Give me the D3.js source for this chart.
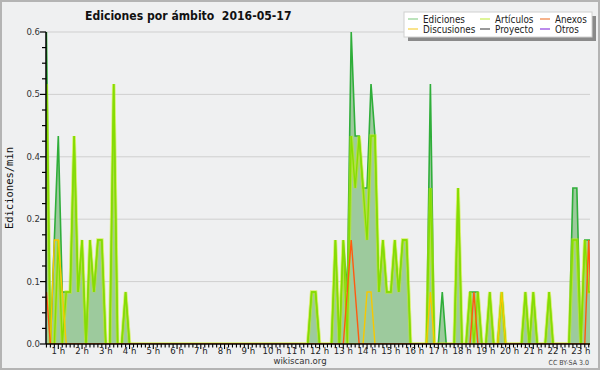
<!DOCTYPE html>
<html>
<head>
<meta charset="utf-8">
<script src="https://cdn.jsdelivr.net/npm/d3@7"></script>
<style>
  body { margin: 0; background: #fff; }
  svg { display: block; font-family: "DejaVu Sans Condensed", "DejaVu Sans", sans-serif; }
</style>
</head>
<body>
<div id="chart"></div>
<script>
// values are edits per minute in 10 minute bins, 00:00 .. 23:50 (144 bins)
const ediciones = [
  0, 0, 0, 0.6, 0, 0.2, 0.4, 0.1, 0.1, 0.1, 0.4, 0.1,
  0.2, 0, 0.2, 0.1, 0.2, 0.2, 0, 0, 0.5, 0, 0, 0.1,
  0, 0, 0, 0, 0, 0, 0, 0, 0, 0, 0, 0,
  0, 0, 0, 0, 0, 0, 0, 0, 0, 0, 0, 0,
  0, 0, 0, 0, 0, 0, 0, 0, 0, 0, 0, 0,
  0, 0, 0, 0, 0, 0, 0, 0, 0, 0, 0.1, 0.1,
  0, 0, 0, 0, 0.2, 0, 0.2, 0.1, 0.6, 0.4, 0.4, 0.3,
  0.3, 0.5, 0.4, 0.1, 0.2, 0.1, 0.1, 0.2, 0.1, 0.2, 0.2, 0,
  0, 0, 0, 0, 0.5, 0, 0, 0.1, 0, 0, 0, 0.3,
  0, 0, 0.1, 0.1, 0.1, 0, 0, 0.1, 0, 0, 0.1, 0,
  0, 0, 0, 0, 0.1, 0, 0.1, 0, 0, 0, 0.1, 0,
  0, 0, 0, 0, 0.3, 0.3, 0, 0.2, 0.2, 0.2, 0, 0
];
const articulos = [
  0, 0, 0, 0.5, 0, 0, 0.2, 0, 0.1, 0.1, 0.4, 0.1,
  0.2, 0, 0.2, 0.1, 0.2, 0.2, 0, 0, 0.5, 0, 0, 0.1,
  0, 0, 0, 0, 0, 0, 0, 0, 0, 0, 0, 0,
  0, 0, 0, 0, 0, 0, 0, 0, 0, 0, 0, 0,
  0, 0, 0, 0, 0, 0, 0, 0, 0, 0, 0, 0,
  0, 0, 0, 0, 0, 0, 0, 0, 0, 0, 0.1, 0.1,
  0, 0, 0, 0, 0.2, 0, 0.2, 0, 0.4, 0.3, 0.4, 0.3,
  0.2, 0.4, 0.4, 0.1, 0.2, 0.1, 0.1, 0.2, 0.1, 0.2, 0.2, 0,
  0, 0, 0, 0, 0.3, 0, 0, 0, 0, 0, 0, 0.3,
  0, 0, 0.1, 0, 0.1, 0, 0, 0.1, 0, 0, 0.1, 0,
  0, 0, 0, 0, 0.1, 0, 0.1, 0, 0, 0, 0.1, 0,
  0, 0, 0, 0, 0.2, 0.2, 0, 0.2, 0.1, 0.1, 0, 0
];
const discusiones = [
  0, 0, 0, 0, 0, 0.2, 0.2, 0.1, 0, 0, 0, 0,
  0, 0, 0, 0, 0, 0, 0, 0, 0, 0, 0, 0,
  0, 0, 0, 0, 0, 0, 0, 0, 0, 0, 0, 0,
  0, 0, 0, 0, 0, 0, 0, 0, 0, 0, 0, 0,
  0, 0, 0, 0, 0, 0, 0, 0, 0, 0, 0, 0,
  0, 0, 0, 0, 0, 0, 0, 0, 0, 0, 0, 0,
  0, 0, 0, 0, 0, 0, 0, 0, 0, 0, 0, 0,
  0.1, 0.1, 0, 0, 0, 0, 0, 0, 0, 0, 0, 0,
  0, 0, 0, 0, 0.1, 0, 0, 0, 0, 0, 0, 0,
  0, 0, 0, 0, 0, 0, 0, 0, 0, 0, 0.1, 0,
  0, 0, 0, 0, 0, 0, 0, 0, 0, 0, 0, 0,
  0, 0, 0, 0, 0, 0, 0, 0, 0, 0, 0, 0
];
const anexos = [
  0, 0, 0, 0.1, 0, 0, 0, 0, 0, 0, 0, 0,
  0, 0, 0, 0, 0, 0, 0, 0, 0, 0, 0, 0,
  0, 0, 0, 0, 0, 0, 0, 0, 0, 0, 0, 0,
  0, 0, 0, 0, 0, 0, 0, 0, 0, 0, 0, 0,
  0, 0, 0, 0, 0, 0, 0, 0, 0, 0, 0, 0,
  0, 0, 0, 0, 0, 0, 0, 0, 0, 0, 0, 0,
  0, 0, 0, 0, 0, 0, 0, 0.1, 0.2, 0.1, 0, 0,
  0, 0, 0, 0, 0, 0, 0, 0, 0, 0, 0, 0,
  0, 0, 0, 0, 0, 0, 0, 0, 0, 0, 0, 0,
  0, 0, 0, 0.1, 0, 0, 0, 0, 0, 0, 0, 0,
  0, 0, 0, 0, 0, 0, 0, 0, 0, 0, 0, 0,
  0, 0, 0, 0, 0, 0, 0, 0, 0.2, 0, 0, 0
];
const proyecto = [];
const otros = [];

const hourLabels = ["1 h", "2 h", "3 h", "4 h", "5 h", "6 h", "7 h", "8 h", "9 h", "10 h", "11 h", "12 h",
  "13 h", "14 h", "15 h", "16 h", "17 h", "18 h", "19 h", "20 h", "21 h", "22 h", "23 h"];
const legendNames = ["Ediciones", "Artículos", "Anexos", "Discusiones", "Proyecto", "Otros"];
const legendColors = ["#8fd08f", "#c8ee55", "#f08040", "#f6d040", "#555555", "#9040e0"];

const W = 600, H = 370;
const pLeft = 46, pRight = 590, pTop = 32, pBottom = 344;

const svg = d3.select("#chart").append("svg")
  .attr("width", W)
  .attr("height", H);

svg.append("rect")
  .attr("x", 1).attr("y", 1)
  .attr("width", W - 2).attr("height", H - 2)
  .attr("fill", "#eff0f1")
  .attr("stroke", "#b4b4b4")
  .attr("stroke-width", 2);

// time in hours -> px
const x = d3.scaleLinear().domain([0.482, 23.387]).range([pLeft, pRight]);
const y = d3.scaleLinear().domain([0, 0.6]).range([pBottom, pTop]);

const majorY = d3.range(0, 0.6001, 0.12);
const minorY = d3.range(0, 0.6001, 0.03);

svg.append("g").selectAll("line")
  .data(majorY.slice(1))
  .join("line")
  .attr("x1", pLeft).attr("x2", pRight)
  .attr("y1", d => y(d)).attr("y2", d => y(d))
  .attr("stroke", "#cfcfcf")
  .attr("stroke-width", 1);

svg.append("defs").append("clipPath").attr("id", "plot")
  .append("rect")
  .attr("x", pLeft).attr("y", pTop - 2)
  .attr("width", pRight - pLeft).attr("height", pBottom - pTop + 2);

const plot = svg.append("g").attr("clip-path", "url(#plot)");

const line = d3.line()
  .x((d, i) => x(i / 6))
  .y(d => y(d));
const area = d3.area()
  .x((d, i) => x(i / 6))
  .y0(y(0))
  .y1(d => y(d));

plot.append("path")
  .datum(ediciones)
  .attr("d", area)
  .attr("fill", "#9dca9d");

plot.append("path")
  .datum(ediciones)
  .attr("d", line)
  .attr("fill", "none")
  .attr("stroke", "#2fae3a")
  .attr("stroke-width", 1.6);

// articulos: soft wide stroke with a brighter core
plot.append("path")
  .datum(articulos)
  .attr("d", line)
  .attr("fill", "none")
  .attr("stroke", "#c4f000")
  .attr("stroke-opacity", 0.55)
  .attr("stroke-width", 3.5);
plot.append("path")
  .datum(articulos)
  .attr("d", line)
  .attr("fill", "none")
  .attr("stroke", "#86de00")
  .attr("stroke-width", 1.4);

plot.append("path")
  .datum(discusiones)
  .attr("d", line)
  .attr("fill", "none")
  .attr("stroke", "#f8c800")
  .attr("stroke-width", 1.4);

plot.append("path")
  .datum(anexos)
  .attr("d", line)
  .attr("fill", "none")
  .attr("stroke", "#ff5a10")
  .attr("stroke-width", 1.4);

[proyecto, otros].forEach((s, k) => {
  if (!s.length) return;
  plot.append("path").datum(s).attr("d", line)
    .attr("fill", "none").attr("stroke", legendColors[4 + k]).attr("stroke-width", 1.4);
});

// y axis
const yAxis = svg.append("g");
yAxis.append("line")
  .attr("x1", pLeft).attr("x2", pLeft)
  .attr("y1", pTop).attr("y2", pBottom)
  .attr("stroke", "#000").attr("stroke-width", 1.5);
yAxis.selectAll("line.minor")
  .data(minorY)
  .join("line").attr("class", "minor")
  .attr("x1", d => majorY.some(m => Math.abs(m - d) < 1e-9) ? pLeft - 6 : pLeft - 4)
  .attr("x2", pLeft)
  .attr("y1", d => y(d)).attr("y2", d => y(d))
  .attr("stroke", "#000").attr("stroke-width", 1.2);
yAxis.selectAll("text")
  .data(majorY)
  .join("text")
  .attr("x", pLeft - 6)
  .attr("y", d => y(d) + 3)
  .attr("text-anchor", "end")
  .attr("font-size", 9.5)
  .attr("fill", "#333")
  .text(d => d3.format(".1f")(d));

svg.append("text")
  .attr("transform", "translate(13,188) rotate(-90)")
  .attr("text-anchor", "middle")
  .attr("font-family", "DejaVu Sans Mono, monospace")
  .attr("font-size", 10.5)
  .attr("fill", "#111")
  .text("Ediciones/min");

// x axis
const xAxis = svg.append("g");
const tenMin = d3.range(0, 145).map(i => i / 6).filter(t => t >= x.domain()[0] && t <= x.domain()[1]);
xAxis.selectAll("line.tick")
  .data(tenMin)
  .join("line").attr("class", "tick")
  .attr("x1", d => x(d)).attr("x2", d => x(d))
  .attr("y1", pBottom)
  .attr("y2", d => Math.abs(d - Math.round(d)) < 1e-9 ? pBottom + 5 : pBottom + 3.5)
  .attr("stroke", "#000").attr("stroke-width", 1.1);
xAxis.append("line")
  .attr("x1", pLeft).attr("x2", pRight)
  .attr("y1", pBottom).attr("y2", pBottom)
  .attr("stroke", "#000").attr("stroke-width", 1.5);
xAxis.selectAll("text")
  .data(hourLabels)
  .join("text")
  .attr("x", (d, i) => x(i + 1))
  .attr("y", pBottom + 10)
  .attr("text-anchor", "middle")
  .attr("font-size", 9.5)
  .attr("fill", "#222")
  .text(d => d);

svg.append("text")
  .attr("x", 300).attr("y", 364)
  .attr("text-anchor", "middle")
  .attr("font-size", 9.5)
  .attr("fill", "#333")
  .text("wikiscan.org");

svg.append("text")
  .attr("x", 589).attr("y", 365)
  .attr("text-anchor", "end")
  .attr("font-size", 7)
  .attr("fill", "#444")
  .text("CC BY-SA 3.0");

svg.append("text")
  .attr("x", 85).attr("y", 20)
  .attr("font-size", 12.1)
  .attr("font-weight", "bold")
  .attr("fill", "#111")
  .attr("xml:space", "preserve")
  .text("Ediciones por ámbito  2016-05-17");

// legend
const lg = svg.append("g");
lg.append("rect")
  .attr("x", 408).attr("y", 16)
  .attr("width", 188).attr("height", 25)
  .attr("fill", "#8a8a8a");
lg.append("rect")
  .attr("x", 404).attr("y", 12)
  .attr("width", 188).attr("height", 25)
  .attr("fill", "#fff")
  .attr("stroke", "#d0d0d0");

const colX = [408, 480, 540];
const item = lg.selectAll("g.item")
  .data(legendNames)
  .join("g").attr("class", "item")
  .attr("transform", (d, i) => `translate(${colX[i % 3]},${i < 3 ? 19 : 29})`);
item.append("line")
  .attr("x1", 0).attr("x2", 10)
  .attr("stroke", (d, i) => legendColors[i])
  .attr("stroke-width", 1.2);
item.append("text")
  .attr("x", 15).attr("y", 3.5)
  .attr("font-size", 9.8)
  .attr("fill", "#222")
  .text(d => d);
</script>
</body>
</html>
